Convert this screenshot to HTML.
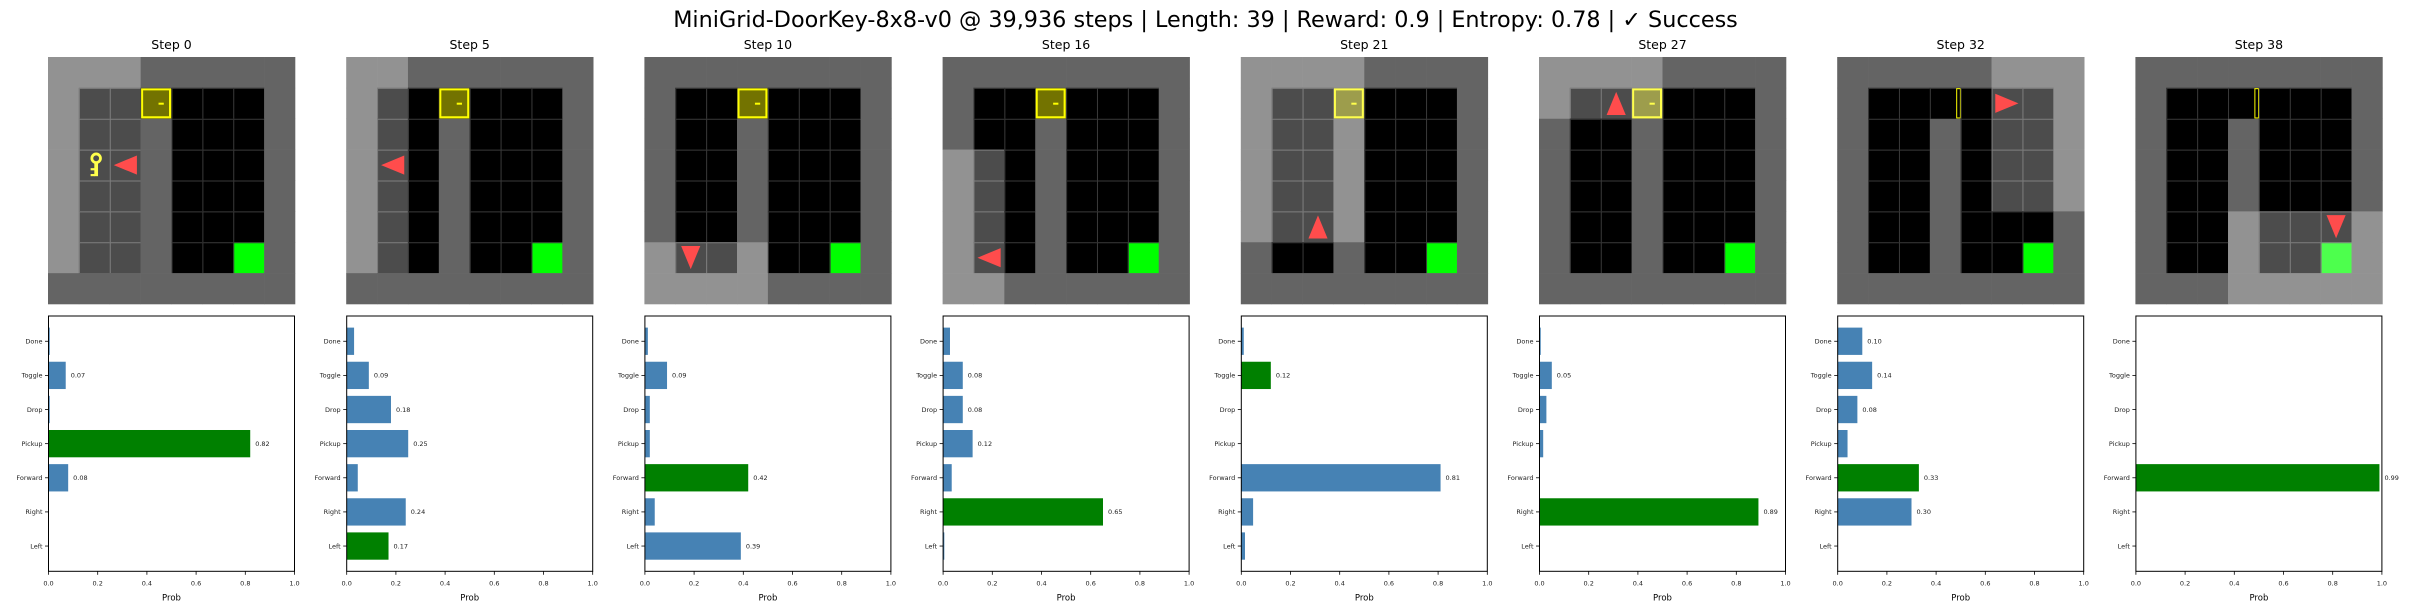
<!DOCTYPE html>
<html><head><meta charset="utf-8">
<style>
html,body{margin:0;padding:0;background:#fff;}
svg{display:block;font-family:"DejaVu Sans","Liberation Sans",sans-serif;}
</style></head>
<body>
<svg id="fig" width="2411" height="611" viewBox="0 0 2411 611" xmlns="http://www.w3.org/2000/svg">
<rect width="2411" height="611" fill="#fff"/>
<text x="1205.5" y="27" text-anchor="middle" font-size="22.3" fill="#000">MiniGrid-DoorKey-8x8-v0 @ 39,936 steps | Length: 39 | Reward: 0.9 | Entropy: 0.78 | ✓ Success</text>
<g id="panels"></g>
</svg>
<script>
const stepLabels = ["Step 0","Step 5","Step 10","Step 16","Step 21","Step 27","Step 32","Step 38"];
const actions = ["Left","Right","Forward","Pickup","Drop","Toggle","Done"];
const probsStep0  = [0.0, 0.0, 0.08, 0.82, 0.005, 0.07, 0.005];
const probsStep5  = [0.17, 0.24, 0.045, 0.25, 0.18, 0.09, 0.03];
const probsStep10 = [0.39, 0.04, 0.42, 0.02, 0.02, 0.09, 0.012];
const probsStep16 = [0.005, 0.65, 0.035, 0.12, 0.08, 0.08, 0.028];
const probsStep21 = [0.015, 0.048, 0.81, 0.0, 0.0, 0.12, 0.01];
const probsStep27 = [0.0, 0.89, 0.0, 0.015, 0.028, 0.05, 0.005];
const probsStep32 = [0.0, 0.30, 0.33, 0.04, 0.08, 0.14, 0.10];
const probsStep38 = [0.0, 0.0, 0.99, 0.0, 0.0, 0.0, 0.0];
const chosenAction = [3, 0, 2, 1, 5, 1, 2, 2];
const xTicks = [0.0, 0.2, 0.4, 0.6, 0.8, 1.0];
const xTickLabels = ["0.0","0.2","0.4","0.6","0.8","1.0"];
const agentPos = [[2,3,"L"],[1,3,"L"],[1,6,"D"],[1,6,"L"],[2,5,"U"],[2,1,"U"],[5,1,"R"],[6,5,"D"]];
const visibleArea = [[0,2,0,6],[0,1,0,6],[0,3,6,7],[0,1,3,7],[0,3,0,5],[0,3,0,1],[5,7,0,4],[3,7,5,7]];
const keyVisible = [true,false,false,false,false,false,false,false];
const doorOpen = [false,false,false,false,false,false,true,true];

const allProbs = [probsStep0,probsStep5,probsStep10,probsStep16,probsStep21,probsStep27,probsStep32,probsStep38];
const NS = "http://www.w3.org/2000/svg";
const root = document.getElementById("panels");
function mk(tag, attrs, parent){
  const e = document.createElementNS(NS, tag);
  for (const k in attrs) e.setAttribute(k, attrs[k]);
  (parent||root).appendChild(e);
  return e;
}
const PITCH = 298.2, IMG_X0 = 48, IMG_Y0 = 57, IMG_W = 247, CELL = IMG_W/8;
const AX_X0 = 48.5, AX_Y0 = 316, AX_W = 246, AX_H = 255.3;
const YMIN = -0.74, YMAX = 6.74;

function cellType(c,r){
  if (c===0||r===0||c===7||r===7) return "wall";
  if (c===3) return r===1 ? "door" : "wall";
  if (c===6 && r===6) return "goal";
  return "floor";
}

for (let p=0; p<8; p++){
  const g = mk("g", {});
  
  
  const ix = IMG_X0 + p*PITCH;
  const t = mk("text", {x: ix + IMG_W/2, y: 49, "text-anchor":"middle", "font-size":"12.5", fill:"#000"}, g);
  t.textContent = stepLabels[p];
  
  

  const gi = mk("g", {}, g);
  
  
  const va = visibleArea[p];
  for (let r=0; r<8; r++){
    for (let c=0; c<8; c++){
      const hl = c>=va[0] && c<=va[1] && r>=va[2] && r<=va[3];
      const x = ix + c*CELL, y = IMG_Y0 + r*CELL;
      const ty = cellType(c,r);
      let fill;
      if (ty==="wall") fill = hl ? "#929292" : "#646464";
      else if (ty==="goal") fill = hl ? "#4dff4d" : "#00ff00";
      else fill = hl ? "#4c4c4c" : "#000000";
      if (ty==="door" && !doorOpen[p]) fill = hl ? "#9d9d4c" : "#737300";
      const cell = mk("rect", {x:x, y:y, width:CELL+0.3, height:CELL+0.3, fill:fill}, gi);
      
      
      if (ty!=="wall"){
        const lc = hl ? "#7f7f7f" : "#3a3a3a";
        mk("rect", {x:x, y:y, width:CELL, height:1, fill:lc}, gi);
        mk("rect", {x:x, y:y, width:1, height:CELL, fill:lc}, gi);
      }
      if (ty==="door"){
        const yc = hl ? "#ffff4c" : "#ffff00";
        if (!doorOpen[p]){
          const d = mk("rect", {x:x+1.5, y:y+1.5, width:CELL-3, height:CELL-3, fill:"none", stroke:yc, "stroke-width":2}, gi);
          
          
          mk("rect", {x:x+CELL*0.58, y:y+CELL*0.48, width:CELL*0.17, height:2, fill:yc}, gi);
        } else {
          const d = mk("rect", {x:x+CELL*0.87, y:y+0.8, width:CELL*0.12, height:CELL-1.6, fill:"none", stroke:yc, "stroke-width":1}, gi);
          
          
        }
      }
    }
  }
  if (keyVisible[p]){
    const kx = ix + 1*CELL, ky = IMG_Y0 + 3*CELL, kc = "#ffff4c";
    const kg = mk("g", {}, gi);
    
    
    mk("circle", {cx:kx+CELL*0.56, cy:ky+CELL*0.28, r:CELL*0.14, fill:"none", stroke:kc, "stroke-width":CELL*0.09}, kg);
    mk("rect", {x:kx+CELL*0.50, y:ky+CELL*0.40, width:CELL*0.12, height:CELL*0.46, fill:kc}, kg);
    mk("rect", {x:kx+CELL*0.38, y:ky+CELL*0.60, width:CELL*0.14, height:CELL*0.07, fill:kc}, kg);
    mk("rect", {x:kx+CELL*0.38, y:ky+CELL*0.79, width:CELL*0.14, height:CELL*0.07, fill:kc}, kg);
  }
  const ag = agentPos[p];
  const ax = ix + ag[0]*CELL, ay = IMG_Y0 + ag[1]*CELL;
  const rot = {R:0, D:90, L:180, U:270}[ag[2]];
  const pts = [[0.12,0.19],[0.87,0.5],[0.12,0.81]].map(q=>(ax+q[0]*CELL)+","+(ay+q[1]*CELL)).join(" ");
  const agent = mk("polygon", {points:pts, fill:"#ff4c4c", transform:`rotate(${rot} ${ax+CELL/2} ${ay+CELL/2})`}, gi);
  
  

  const bx = AX_X0 + p*PITCH;
  const xs = v => bx + v*AX_W;
  const ys = i => AX_Y0 + (YMAX - i)/(YMAX - YMIN)*AX_H;
  const bh = 0.8/(YMAX-YMIN)*AX_H;
  const ch = mk("g", {}, g);
  
  
  const probs = allProbs[p];
  for (let i=0; i<actions.length; i++){
    const v = probs[i];
    const bar = mk("rect", {x:xs(0), y:ys(i)-bh/2, width:Math.max(0, xs(v)-xs(0)), height:bh, fill: i===chosenAction[p] ? "#008000" : "#4682b4"}, ch);
    
    
    if (v >= 0.05){
      const vl = mk("text", {x:xs(v)+5, y:ys(i)+2.3, "font-size":"6.5", fill:"#222"}, ch);
      vl.textContent = v.toFixed(2);
      
      
    }
    mk("line", {x1:xs(0)-3.5, x2:xs(0), y1:ys(i), y2:ys(i), stroke:"#000", "stroke-width":0.8}, ch);
    const yl = mk("text", {x:xs(0)-6, y:ys(i)+2.3, "font-size":"6.5", "text-anchor":"end", fill:"#222"}, ch);
    yl.textContent = actions[i];
    
    
  }
  const frame = mk("rect", {x:bx, y:AX_Y0, width:AX_W, height:AX_H, fill:"none", stroke:"#000", "stroke-width":1}, ch);
  
  
  for (let k=0; k<xTicks.length; k++){
    const tx = xs(xTicks[k]);
    mk("line", {x1:tx, x2:tx, y1:AX_Y0+AX_H, y2:AX_Y0+AX_H+3.5, stroke:"#000", "stroke-width":0.8}, ch);
    const xl = mk("text", {x:tx, y:AX_Y0+AX_H+14, "font-size":"6.5", "text-anchor":"middle", fill:"#222"}, ch);
    xl.textContent = xTickLabels[k];
    
    
  }
  const xt = mk("text", {x:bx+AX_W/2, y:AX_Y0+AX_H+29, "font-size":"8.5", "text-anchor":"middle", fill:"#000"}, ch);
  xt.textContent = "Prob";
  
  
}
</script>
</body></html>
